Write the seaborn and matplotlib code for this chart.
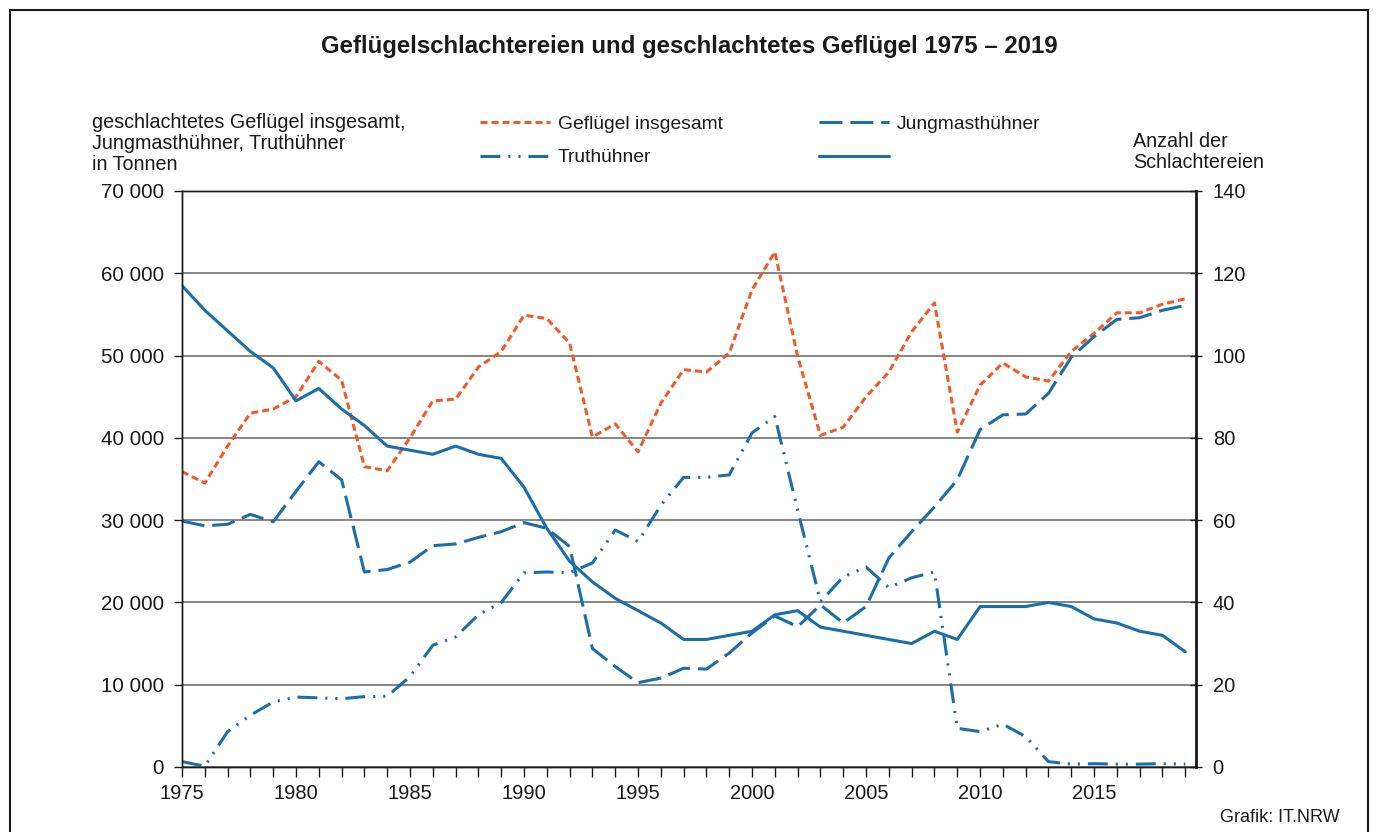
import numpy as np
import pandas as pd
import seaborn as sns
import matplotlib.pyplot as plt
from matplotlib.ticker import FuncFormatter, MultipleLocator
from matplotlib.patches import Rectangle

# Daten
years = list(range(1975, 2020))
gefluegel = [35900, 34500, 39000, 43000, 43500, 45000, 49300, 47000, 36500, 36000,
             40000, 44500, 44700, 48600, 50500, 54900, 54500, 51500, 40100, 41700,
             38300, 44200, 48300, 48000, 50300, 58000, 62600, 49900, 40300, 41300,
             45000, 48000, 52900, 56400, 40700, 46400, 49100, 47400, 46900, 50500,
             52700, 55200, 55200, 56250, 56900]
jungmast = [29900, 29300, 29500, 30700, 29800, 33500, 37100, 34900, 23700, 24000,
            24900, 26900, 27100, 27900, 28600, 29700, 29000, 26800, 14400, 12200,
            10250, 10800, 12000, 11900, 13850, 16300, 18350, 17050, 19700, 17500,
            19500, 25400, 28600, 31600, 34900, 41000, 42800, 42900, 45400, 49800,
            52300, 54400, 54600, 55500, 56100]
truthuehner = [650, 100, 4300, 6300, 7900, 8500, 8400, 8300, 8550, 8600,
               11000, 14800, 15800, 18500, 20000, 23600, 23700, 23600, 24800, 28800,
               27400, 31800, 35200, 35200, 35500, 40600, 42600, 31200, 20100, 23100,
               24300, 21800, 23000, 23700, 4700, 4300, 5200, 3700, 650, 350,
               400, 350, 350, 400, 350]
schlachtereien = [117, 111, 106, 101, 97, 89, 92, 87, 83, 78,
                  77, 76, 78, 76, 75, 68, 58, 50, 45, 41,
                  38, 35, 31, 31, 32, 33, 37, 38, 34, 33,
                  32, 31, 30, 33, 31, 39, 39, 39, 40, 39,
                  36, 35, 33, 32, 28]

df = pd.DataFrame({'Jahr': years, 'Gefluegel': gefluegel, 'Jungmast': jungmast,
                   'Truthuehner': truthuehner, 'Schlachtereien': schlachtereien})

sns.set_theme(style='white')
plt.rcParams['font.family'] = ['Liberation Sans', 'DejaVu Sans']

orange = '#EF5B2B'
blau = '#1C6DA8'
lw = 2.2

fig = plt.figure(figsize=(13.78, 8.32), dpi=100)
ax = fig.add_axes([182/1378, 1-767/832, (1196-182)/1378, (767-191)/832])
ax2 = ax.twinx()

sns.lineplot(data=df, x='Jahr', y='Gefluegel', ax=ax, color=orange, lw=lw, linestyle=(0, (2.3, 1.3)))
l_gef = ax.lines[-1]
sns.lineplot(data=df, x='Jahr', y='Jungmast', ax=ax, color=blau, lw=lw, linestyle=(0, (7.5, 2.6)))
l_jung = ax.lines[-1]
sns.lineplot(data=df, x='Jahr', y='Truthuehner', ax=ax, color=blau, lw=lw,
             linestyle=(0, (6.5, 2.6, 0.7, 2.6, 0.7, 2.6)))
l_trut = ax.lines[-1]
sns.lineplot(data=df, x='Jahr', y='Schlachtereien', ax=ax2, color=blau, lw=lw, linestyle='-')
l_anz = ax2.lines[-1]

# Achsen
ax.set_xlim(1975, 2019.47)
ax.set_ylim(0, 70000)
ax2.set_ylim(0, 140)
ax.set_xlabel('')
ax.set_ylabel('')
ax2.set_ylabel('')
ax.xaxis.set_major_locator(MultipleLocator(5))
ax.xaxis.set_minor_locator(MultipleLocator(1))
ax.yaxis.set_major_locator(MultipleLocator(10000))
ax2.yaxis.set_major_locator(MultipleLocator(20))
ax.yaxis.set_major_formatter(FuncFormatter(lambda v, p: f"{v:,.0f}".replace(',', ' ')))

ax.grid(axis='y', color='#858585', lw=1.4)
ax.set_axisbelow(True)
for a in (ax, ax2):
    for s in a.spines.values():
        s.set_color('#1a1a1a')
        s.set_linewidth(1.0)
ax2.spines['right'].set_linewidth(2.0)

ax.tick_params(axis='x', which='both', direction='out', length=7, width=1, color='#1a1a1a',
               bottom=True, labelsize=14.5, pad=5, labelcolor='#1a1a1a')
ax.tick_params(axis='y', direction='out', length=6, width=1, color='#1a1a1a', left=True,
               labelsize=14.8, pad=7, labelcolor='#1a1a1a')
ax2.tick_params(axis='y', direction='inout', length=8, width=1, color='#1a1a1a', right=True,
                labelsize=14.5, pad=8, labelcolor='#1a1a1a')

# Titel und Texte
fig.text(0.5, 1-46/832, 'Geflügelschlachtereien und geschlachtetes Geflügel 1975 – 2019',
         ha='center', va='center', fontsize=17.3, fontweight='bold', color='#1a1a1a')
fig.text(92/1378, 1-113/832, 'geschlachtetes Geflügel insgesamt,\nJungmasthühner, Truthühner\nin Tonnen',
         ha='left', va='top', fontsize=14.2, linespacing=1.15, color='#1a1a1a')
fig.text(1133/1378, 1-132/832, 'Anzahl der\nSchlachtereien',
         ha='left', va='top', fontsize=14.2, linespacing=1.15, color='#1a1a1a')
fig.text(1340/1378, 1-818/832, 'Grafik: IT.NRW', ha='right', va='center', fontsize=13, color='#1a1a1a')

fig.legend([l_gef, l_trut, l_jung, l_anz],
           ['Geflügel insgesamt', 'Truthühner', 'Jungmasthühner', ''],
           ncol=2, loc='upper left', bbox_to_anchor=(480/1378, 1-115/832),
           frameon=False, borderpad=0, borderaxespad=0, fontsize=13.9,
           handlelength=3.6, handletextpad=0.42, columnspacing=5.0, labelspacing=0.85,
           labelcolor='#1a1a1a')

# Rahmen
fig.add_artist(Rectangle((10/1378, -0.1), 1358/1378, 1.1 - 10/832,
                         transform=fig.transFigure, fill=False, ec='#1a1a1a', lw=1.5))

fig.savefig('out.png', dpi=100)
